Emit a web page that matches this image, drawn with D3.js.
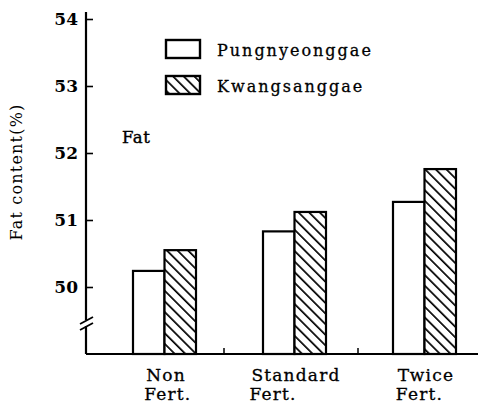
<!DOCTYPE html>
<html>
<head>
<meta charset="utf-8">
<script src="https://cdn.jsdelivr.net/npm/d3@7"></script>
<style>
  html, body { margin: 0; padding: 0; background: #fff; }
  svg { display: block; }
  text { font-family: "DejaVu Serif", "Liberation Serif", serif; fill: #000; }
</style>
</head>
<body>
<svg id="chart" width="478" height="406"></svg>
<script>
// ---- data ----
const categories = ["Non|Fert.", "Standard|Fert.", "Twice|Fert."];
const series = ["Pungnyeonggae", "Kwangsanggae"];
const pungnyeonggae = [50.24, 50.83, 51.27];
const kwangsanggae = [50.55, 51.12, 51.76];
const yTicks = [50, 51, 52, 53, 54];
const yTitle = "Fat content(%)";
const panelLabel = "Fat";

const values = [pungnyeonggae, kwangsanggae];

const svg = d3.select("#chart");

const axisX = 86, baseY = 354;
const y = d3.scaleLinear().domain([49.0, 54]).range([baseY, 19]);
const x = d3.scalePoint().domain(categories).range([164, 424]);
const xs = d3.scaleBand().domain(series).range([-31, 32]);

// hatch pattern
const defs = svg.append("defs");
const pat = defs.append("pattern")
  .attr("id", "hatch").attr("patternUnits", "userSpaceOnUse")
  .attr("width", 7.5).attr("height", 7.5)
  .attr("patternTransform", "rotate(-45)");
pat.append("rect").attr("width", 7.5).attr("height", 7.5).attr("fill", "#fff");
pat.append("line").attr("x1", 0).attr("y1", 0).attr("x2", 0).attr("y2", 7.5)
  .attr("stroke", "#000").attr("stroke-width", 3.4);

const fills = ["#fff", "url(#hatch)"];

// bars
categories.forEach((c, i) => {
  series.forEach((s, j) => {
    const v = values[j][i];
    svg.append("rect")
      .attr("x", x(c) + xs(s))
      .attr("y", y(v))
      .attr("width", xs.bandwidth())
      .attr("height", baseY - y(v))
      .attr("fill", fills[j])
      .attr("stroke", "#000")
      .attr("stroke-width", 2.2);
  });
});

// y axis
const yAxis = d3.axisRight(y).tickValues(yTicks).tickSize(7).tickFormat("");
const gy = svg.append("g").attr("transform", `translate(${axisX},0)`).call(yAxis);
gy.select(".domain").remove();
gy.selectAll(".tick line").attr("stroke", "#000").attr("stroke-width", 1.6);
svg.append("line").attr("x1", axisX).attr("x2", axisX).attr("y1", 12).attr("y2", baseY)
  .attr("stroke", "#000").attr("stroke-width", 2.2);
svg.append("g").selectAll("text").data(yTicks).join("text")
  .attr("x", axisX - 8).attr("y", d => y(d) + 6)
  .attr("text-anchor", "end")
  .attr("font-size", 17).attr("font-weight", "bold")
  .text(d => d);

// axis break
const brkY = 324;
svg.append("rect").attr("x", axisX - 3).attr("y", brkY - 4).attr("width", 6).attr("height", 6).attr("fill", "#fff");
[-3, 3].forEach(o => {
  svg.append("line")
    .attr("x1", axisX - 6).attr("y1", brkY + o + 3)
    .attr("x2", axisX + 7).attr("y2", brkY + o - 4)
    .attr("stroke", "#000").attr("stroke-width", 1.8);
});

// baseline
svg.append("line").attr("x1", axisX).attr("x2", 478).attr("y1", baseY).attr("y2", baseY)
  .attr("stroke", "#000").attr("stroke-width", 2.2);
// separators between groups
const sep = [ (x(categories[0]) + x(categories[1])) / 2 - 5, (x(categories[1]) + x(categories[2])) / 2 - 1 ];
sep.forEach(sx => {
  svg.append("line").attr("x1", sx).attr("x2", sx).attr("y1", baseY).attr("y2", baseY - 6)
    .attr("stroke", "#000").attr("stroke-width", 1.5);
});

// category labels
categories.forEach(c => {
  const [l1, l2] = c.split("|");
  const t1 = svg.append("text").attr("font-size", 17).attr("letter-spacing", 1.2)
    .attr("stroke", "#000").attr("stroke-width", 0.3)
    .attr("y", 381).text(l1);
  const w = t1.node().getComputedTextLength();
  const x0 = x(c) - w / 2 + 2;
  t1.attr("x", x0);
  svg.append("text").attr("font-size", 17).attr("letter-spacing", 1.2)
    .attr("stroke", "#000").attr("stroke-width", 0.3)
    .attr("x", x0 - 2).attr("y", 400).text(l2);
});

// y title
svg.append("text")
  .attr("transform", `translate(22,172) rotate(-90)`)
  .attr("text-anchor", "middle")
  .attr("font-size", 16).attr("letter-spacing", 1.2)
  .text(yTitle);

// panel label
svg.append("text").attr("x", 122).attr("y", 143)
  .attr("font-size", 16.5).attr("letter-spacing", 0.5)
  .attr("stroke", "#000").attr("stroke-width", 0.4).text(panelLabel);

// legend
const leg = svg.append("g");
series.forEach((s, j) => {
  const ly = [40, 76][j];
  leg.append("rect").attr("x", 166).attr("y", ly).attr("width", 34).attr("height", 18)
    .attr("fill", fills[j]).attr("stroke", "#000").attr("stroke-width", 2.4);
  leg.append("text").attr("x", 217).attr("y", ly + 16)
    .attr("font-size", 16).attr("letter-spacing", 2)
    .attr("stroke", "#000").attr("stroke-width", 0.3).text(s);
});
</script>
</body>
</html>
